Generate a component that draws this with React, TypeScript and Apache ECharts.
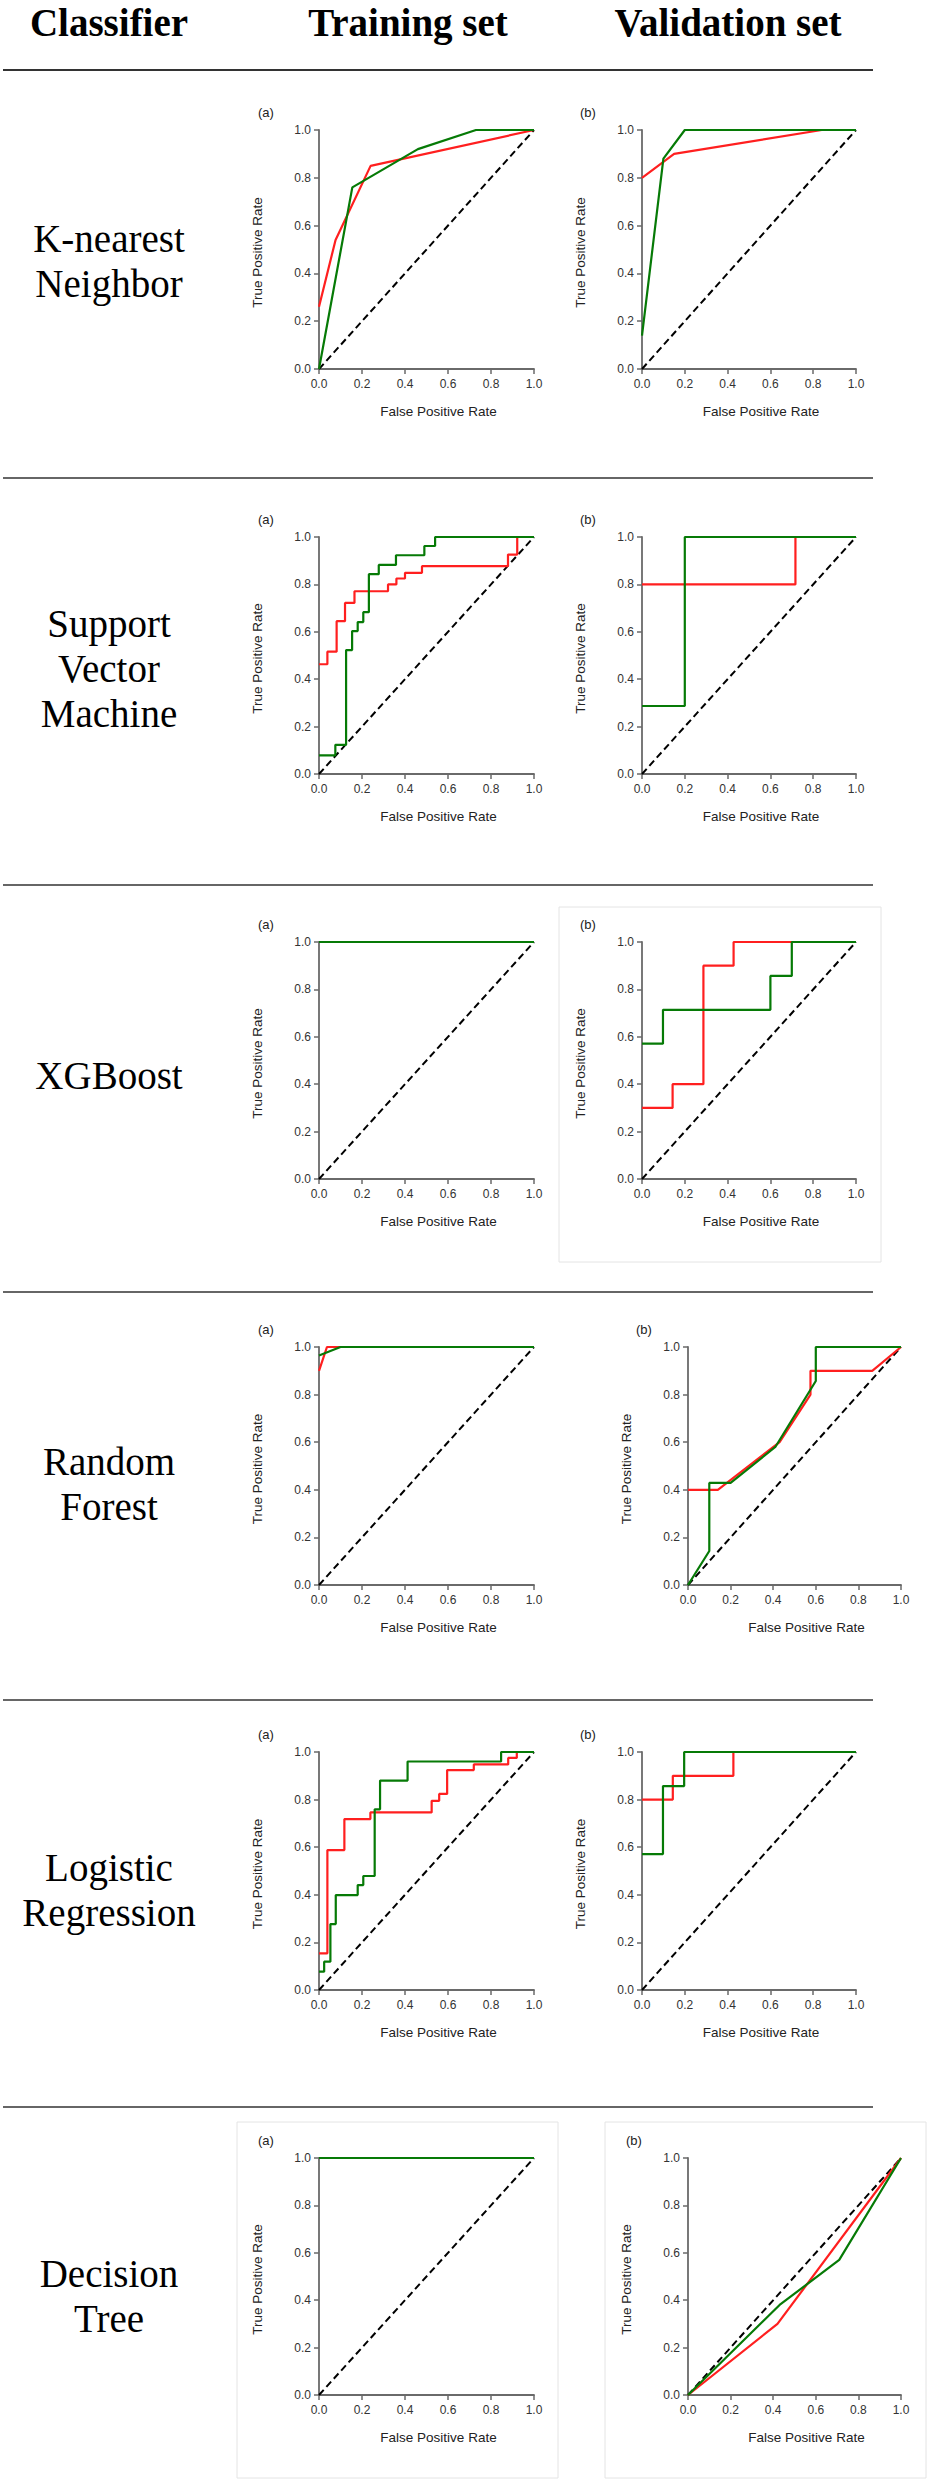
import React, { useEffect, useRef } from 'react';
import * as echarts from 'echarts';

// ---------- text content ----------
const headers = ['Classifier', 'Training set', 'Validation set'];
const classifiers = [
  'K-nearest\nNeighbor',
  'Support\nVector\nMachine',
  'XGBoost',
  'Random\nForest',
  'Logistic\nRegression',
  'Decision\nTree',
];
const panelTags = ['(a)', '(b)'];
const xTitle = 'False Positive Rate';
const yTitle = 'True Positive Rate';

// ---------- data: ROC points [FPR, TPR] ----------
const chanceLine = [[0, 0], [1, 1]];

// K-nearest Neighbor
const knnTrainRed = [[0, 0.26], [0.077, 0.54], [0.24, 0.85], [1, 1]];
const knnTrainGreen = [[0, 0], [0.155, 0.76], [0.46, 0.92], [0.73, 1], [1, 1]];
const knnValidRed = [[0, 0.8], [0.15, 0.9], [0.84, 1], [1, 1]];
const knnValidGreen = [[0, 0.14], [0.1, 0.88], [0.2, 1], [1, 1]];

// Support Vector Machine (staircase corner points)
const svmTrainRed = [[0, 0.463], [0.039, 0.516], [0.082, 0.645], [0.121, 0.722], [0.165, 0.771], [0.321, 0.8], [0.36, 0.825], [0.4, 0.849], [0.479, 0.877], [0.879, 0.926], [0.922, 1], [1, 1]];
const svmTrainGreen = [[0, 0.079], [0.076, 0.123], [0.126, 0.523], [0.154, 0.603], [0.18, 0.641], [0.206, 0.683], [0.232, 0.843], [0.278, 0.882], [0.358, 0.923], [0.49, 0.962], [0.54, 1], [1, 1]];
const svmValidRed = [[0, 0.8], [0.717, 1], [1, 1]];
const svmValidGreen = [[0, 0.287], [0.2, 1], [1, 1]];

// XGBoost
const xgbTrainRed = [[0, 1], [1, 1]];
const xgbTrainGreen = [[0, 1], [1, 1]];
const xgbValidRed = [[0, 0.3], [0.143, 0.4], [0.287, 0.9], [0.428, 1], [1, 1]];
const xgbValidGreen = [[0, 0.571], [0.098, 0.714], [0.6, 0.857], [0.7, 1], [1, 1]];

// Random Forest
const rfTrainRed = [[0, 0.9], [0.037, 1], [1, 1]];
const rfTrainGreen = [[0, 0.964], [0.1, 1], [1, 1]];
const rfValidRed = [[0, 0.4], [0.14, 0.4], [0.43, 0.6], [0.575, 0.8], [0.575, 0.9], [0.865, 0.9], [1, 1]];
const rfValidGreen = [[0, 0], [0.1, 0.143], [0.1, 0.429], [0.2, 0.429], [0.41, 0.58], [0.6, 0.857], [0.6, 1], [1, 1]];

// Logistic Regression (staircase corner points)
const lrTrainRed = [[0, 0.154], [0.039, 0.588], [0.118, 0.718], [0.239, 0.746], [0.524, 0.795], [0.559, 0.824], [0.596, 0.924], [0.72, 0.948], [0.88, 0.975], [0.92, 1], [1, 1]];
const lrTrainGreen = [[0, 0.077], [0.024, 0.119], [0.053, 0.277], [0.078, 0.399], [0.18, 0.441], [0.206, 0.479], [0.259, 0.759], [0.284, 0.88], [0.412, 0.96], [0.847, 1], [1, 1]];
const lrValidRed = [[0, 0.8], [0.144, 0.9], [0.427, 1], [1, 1]];
const lrValidGreen = [[0, 0.571], [0.098, 0.857], [0.197, 1], [1, 1]];

// Decision Tree
const dtTrainRed = [[0, 1], [1, 1]];
const dtTrainGreen = [[0, 1], [1, 1]];
const dtValidRed = [[0, 0], [0.42, 0.3], [1, 1]];
const dtValidGreen = [[0, 0], [0.43, 0.38], [0.71, 0.57], [1, 1]];

// panels row by row: [training, validation]; step = staircase drawing
const panels = [
  [{ red: knnTrainRed, green: knnTrainGreen, step: false }, { red: knnValidRed, green: knnValidGreen, step: false }],
  [{ red: svmTrainRed, green: svmTrainGreen, step: true }, { red: svmValidRed, green: svmValidGreen, step: true }],
  [{ red: xgbTrainRed, green: xgbTrainGreen, step: false }, { red: xgbValidRed, green: xgbValidGreen, step: true }],
  [{ red: rfTrainRed, green: rfTrainGreen, step: false }, { red: rfValidRed, green: rfValidGreen, step: false }],
  [{ red: lrTrainRed, green: lrTrainGreen, step: true }, { red: lrValidRed, green: lrValidGreen, step: true }],
  [{ red: dtTrainRed, green: dtTrainGreen, step: false }, { red: dtValidRed, green: dtValidGreen, step: false }],
];

// ---------- layout (pixels) ----------
const W = 929;
const H = 2481;
const rowTops = [130, 537, 942, 1347, 1752, 2158];
const rowHeights = [239, 237, 237, 238, 238, 237];
const colALeft = 319;
const colAWidth = 215;
const colBLefts = [642, 642, 642, 688, 642, 688];
const colBWidths = [214, 214, 214, 213, 214, 213];
const tagBX = [580, 580, 580, 636, 580, 626];
const sepYs = [70, 478, 885, 1292, 1700, 2107];
const labelYs = [261, 668, 1075, 1484, 1890, 2296];
const boxes = [
  [559, 907, 322, 355],
  [237, 2122, 321, 356],
  [605, 2122, 321, 356],
];

const RED = '#ff1f1f';
const GREEN = '#067a06';
const AXIS = '#6a6a6a';
const SANS = '"Liberation Sans", Arial, sans-serif';
const SERIF = '"Liberation Serif", "Times New Roman", serif';

export default function App() {
  const ref = useRef<HTMLDivElement>(null);

  useEffect(() => {
    if (!ref.current) return;
    const chart = echarts.init(ref.current, null, { renderer: 'svg', width: W, height: H });

    const grids: any[] = [];
    const xAxes: any[] = [];
    const yAxes: any[] = [];
    const series: any[] = [];
    const graphics: any[] = [];

    // header
    const headerX = [109, 408, 728];
    headers.forEach((h, i) => {
      graphics.push({
        type: 'text', x: headerX[i], y: 22, silent: true,
        style: { text: h, fill: '#000', fontFamily: SERIF, fontWeight: 'bold', fontSize: 39, align: 'center', verticalAlign: 'middle' },
      });
    });

    // separators
    sepYs.forEach((y, i) => {
      graphics.push({
        type: 'line', silent: true,
        shape: { x1: 3, y1: y, x2: 873, y2: y },
        style: { stroke: '#333', lineWidth: i === 0 ? 2 : 1.6 },
      });
    });

    // light frames
    boxes.forEach((b) => {
      graphics.push({
        type: 'rect', silent: true,
        shape: { x: b[0], y: b[1], width: b[2], height: b[3] },
        style: { fill: 'none', stroke: '#e4e4e4', lineWidth: 1 },
      });
    });

    // classifier names
    classifiers.forEach((c, r) => {
      graphics.push({
        type: 'text', x: 109, y: labelYs[r], silent: true,
        style: { text: c, fill: '#000', fontFamily: SERIF, fontSize: 39, lineHeight: 45, align: 'center', verticalAlign: 'middle' },
      });
    });

    let gi = 0;
    panels.forEach((row, r) => {
      row.forEach((p, c) => {
        const left = c === 0 ? colALeft : colBLefts[r];
        const width = c === 0 ? colAWidth : colBWidths[r];
        const top = rowTops[r];
        const height = rowHeights[r];
        grids.push({ left, top, width, height, containLabel: false });
        const axisCommon = {
          type: 'value', min: 0, max: 1, interval: 0.2, gridIndex: gi,
          axisLine: { show: true, onZero: false, lineStyle: { color: AXIS, width: 1.8 } },
          axisTick: { show: true, length: 5, lineStyle: { color: AXIS, width: 1.5 } },
          splitLine: { show: false },
        };
        xAxes.push({
          ...axisCommon,
          axisLabel: { show: true, margin: 9, fontSize: 12, color: '#333', fontFamily: SANS, formatter: (v: number) => v.toFixed(1), showMinLabel: true, showMaxLabel: true },
        });
        yAxes.push({
          ...axisCommon,
          axisLabel: { show: true, margin: 8, fontSize: 12, color: '#333', fontFamily: SANS, formatter: (v: number) => v.toFixed(1), showMinLabel: true, showMaxLabel: true },
        });
        series.push({
          type: 'line', xAxisIndex: gi, yAxisIndex: gi, data: chanceLine, symbol: 'none', clip: false, silent: true, z: 2,
          lineStyle: { color: '#000', width: 2, type: [7, 4] },
        });
        series.push({
          type: 'line', xAxisIndex: gi, yAxisIndex: gi, data: p.red, symbol: 'none', clip: false, silent: true, z: 3,
          step: p.step ? 'end' : false,
          lineStyle: { color: RED, width: 2.2 },
        });
        series.push({
          type: 'line', xAxisIndex: gi, yAxisIndex: gi, data: p.green, symbol: 'none', clip: false, silent: true, z: 4,
          step: p.step ? 'end' : false,
          lineStyle: { color: GREEN, width: 2.2 },
        });

        // panel tag
        graphics.push({
          type: 'text', x: c === 0 ? 258 : tagBX[r], y: top - 18, silent: true,
          style: { text: panelTags[c], fill: '#222', fontFamily: SANS, fontSize: 13, align: 'left', verticalAlign: 'middle' },
        });
        // x title
        graphics.push({
          type: 'text', x: left + width / 2 + 12, y: top + height + 42, silent: true,
          style: { text: xTitle, fill: '#222', fontFamily: SANS, fontSize: 13.5, align: 'center', verticalAlign: 'middle' },
        });
        // y title
        graphics.push({
          type: 'text', x: left - 62, y: top + height / 2 + 3, rotation: Math.PI / 2, silent: true,
          style: { text: yTitle, fill: '#222', fontFamily: SANS, fontSize: 13.5, align: 'center', verticalAlign: 'middle' },
        });
        gi++;
      });
    });

    chart.setOption({
      animation: false,
      backgroundColor: '#fff',
      grid: grids,
      xAxis: xAxes,
      yAxis: yAxes,
      series,
      graphic: { elements: graphics },
    });

    return () => chart.dispose();
  }, []);

  return (
    <div
      ref={ref}
      style={{ position: 'absolute', left: 0, top: 0, width: W, height: H, background: '#fff' }}
    />
  );
}
